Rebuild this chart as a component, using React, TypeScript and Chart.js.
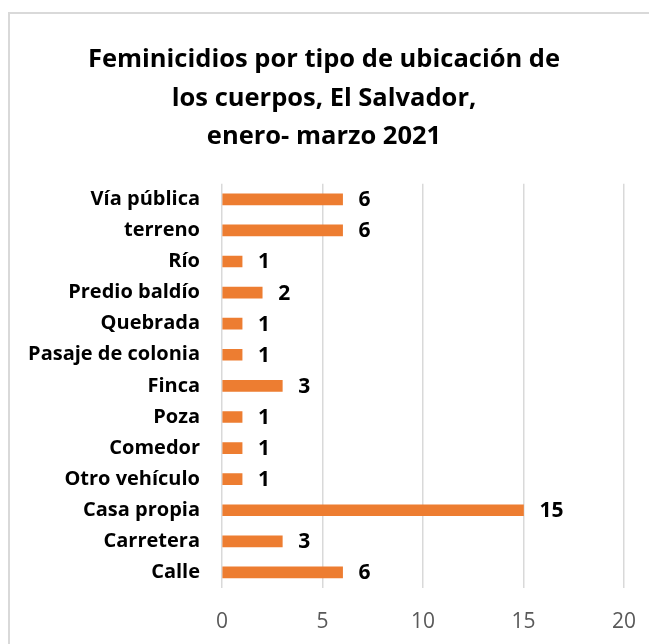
import React, { useEffect, useRef } from "react";
import { Chart, registerables } from "chart.js";

Chart.register(...registerables);

const titleLines = ["Feminicidios por tipo de ubicación de", "los cuerpos, El Salvador,", "enero- marzo 2021"];
const categories = [
  "Vía pública",
  "terreno",
  "Río",
  "Predio baldío",
  "Quebrada",
  "Pasaje de colonia",
  "Finca",
  "Poza",
  "Comedor",
  "Otro vehículo",
  "Casa propia",
  "Carretera",
  "Calle",
];
const values = [6, 6, 1, 2, 1, 1, 3, 1, 1, 1, 15, 3, 6];
const xMin = 0;
const xMax = 20;
const xStep = 5;

const FONT = "'Open Sans', Lato, sans-serif";

const dataLabelPlugin = {
  id: "barValueLabels",
  afterDatasetsDraw(chart: any) {
    const ctx = chart.ctx;
    const meta = chart.getDatasetMeta(0);
    ctx.save();
    ctx.font = `bold 21px ${FONT}`;
    ctx.fillStyle = "#000000";
    ctx.textAlign = "left";
    ctx.textBaseline = "middle";
    meta.data.forEach((bar: any, i: number) => {
      ctx.fillText(String(values[i]), bar.x + 16, bar.y + 1);
    });
    ctx.restore();
  },
};

export default function App() {
  const canvasRef = useRef<HTMLCanvasElement | null>(null);

  useEffect(() => {
    if (!canvasRef.current) return;
    const chart = new Chart(canvasRef.current, {
      type: "bar",
      data: {
        labels: categories,
        datasets: [
          {
            data: values,
            backgroundColor: "#ED7D31",
            borderWidth: 0,
            barThickness: 11,
          },
        ],
      },
      options: {
        indexAxis: "y",
        animation: false,
        responsive: false,
        maintainAspectRatio: false,
        layout: { padding: { left: 10, right: 29, top: 0, bottom: 0 } },
        plugins: {
          legend: { display: false },
          tooltip: { enabled: false },
          title: {
            display: true,
            text: titleLines,
            color: "#000000",
            font: { family: FONT, size: 25.5, weight: "bold", lineHeight: 1.5 },
            padding: { top: 27, bottom: 28 },
          },
        },
        scales: {
          x: {
            min: xMin,
            max: xMax,
            ticks: {
              stepSize: xStep,
              color: "#595959",
              font: { family: FONT, size: 21 },
              padding: 21,
            },
            grid: { color: "#d9d9d9", lineWidth: 1.5, drawTicks: false },
            border: { display: false },
            afterFit: (s: any) => {
              s.height = 56;
            },
          },
          y: {
            ticks: {
              color: "#000000",
              font: { family: FONT, size: 20, weight: "bold" },
              padding: 22,
              autoSkip: false,
            },
            grid: { display: false, drawTicks: false },
            border: { display: false },
            afterFit: (s: any) => {
              s.width = 202;
            },
          },
        },
      },
      plugins: [dataLabelPlugin],
    });
    return () => chart.destroy();
  }, []);

  return (
    <div
      style={{
        marginTop: 4,
        width: 649,
        height: 632,
        boxSizing: "border-box",
        borderTop: "2px solid #d9d9d9",
        borderLeft: "2px solid #d9d9d9",
        background: "#ffffff",
        overflow: "hidden",
      }}
    >
      <canvas ref={canvasRef} width={647} height={630} style={{ display: "block" }} />
    </div>
  );
}
